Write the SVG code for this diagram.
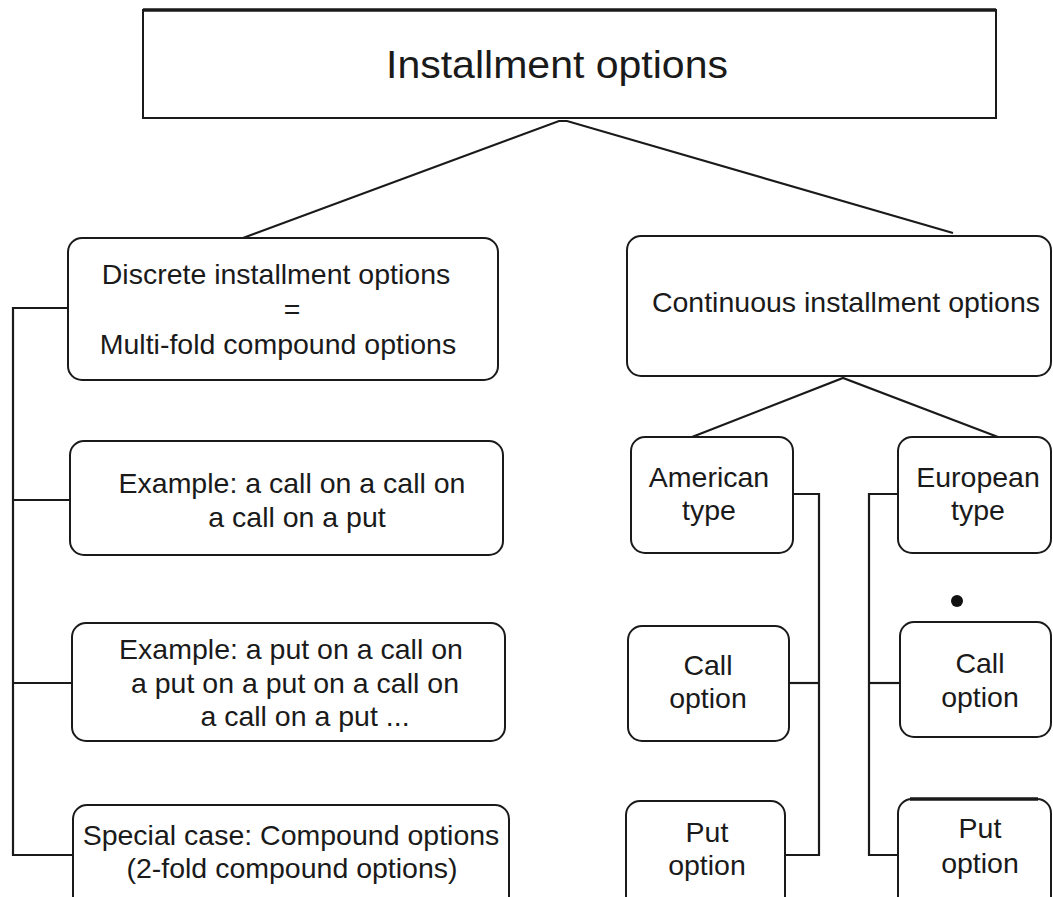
<svg xmlns="http://www.w3.org/2000/svg" width="1053" height="897" viewBox="0 0 1053 897">
<style>
.box{fill:#fff;stroke:#1a1a1a;stroke-width:2}
.t{font-family:"Liberation Sans",Arial,sans-serif;font-size:28.5px;fill:#1a1a1a;text-anchor:middle}
.big{font-size:39px}
.c{fill:none;stroke:#1a1a1a;stroke-width:2.2}
</style>
<rect width="1053" height="897" fill="#fff"/>
<g id="connectors">
<polyline class="c" points="243,238 559,121 567,121 953,233"/>
<polyline class="c" points="692,437 843,378 998,437"/>
<polyline class="c" points="68,308 13,308 13,855 73,855"/>
<line class="c" x1="13" y1="500" x2="70" y2="500"/>
<line class="c" x1="13" y1="683" x2="72" y2="683"/>
<polyline class="c" points="793,494 819,494 819,855 785,855"/>
<line class="c" x1="789" y1="683" x2="819" y2="683"/>
<polyline class="c" points="898,494 869,494 869,855 898,855"/>
<line class="c" x1="869" y1="683" x2="900" y2="683"/>
</g>
<g id="n-top">
<rect class="box" x="143" y="10" width="853" height="108"/>
<line x1="143" y1="10" x2="996" y2="10" stroke="#1a1a1a" stroke-width="3.5"/>
<text class="t big" x="557" y="78" textLength="342" lengthAdjust="spacingAndGlyphs">Installment options</text>
</g>
<g id="n-discrete">
<rect class="box" x="68" y="238" width="430" height="142" rx="14"/>
<text class="t" x="276" y="284">Discrete installment options</text>
<text class="t" x="292" y="319">=</text>
<text class="t" x="278" y="354">Multi-fold compound options</text>
</g>
<g id="n-ex1">
<rect class="box" x="70" y="441" width="433" height="114" rx="14"/>
<text class="t" x="292" y="493">Example: a call on a call on</text>
<text class="t" x="297" y="527">a call on a put</text>
</g>
<g id="n-ex2">
<rect class="box" x="72" y="623" width="433" height="118" rx="14"/>
<text class="t" x="291" y="659">Example: a put on a call on</text>
<text class="t" x="295" y="693">a put on a put on a call on</text>
<text class="t" x="305" y="726">a call on a put ...</text>
</g>
<g id="n-special">
<rect class="box" x="73" y="805" width="436" height="110" rx="14"/>
<text class="t" x="291" y="845">Special case: Compound options</text>
<text class="t" x="292" y="878">(2-fold compound options)</text>
</g>
<g id="n-continuous">
<rect class="box" x="627" y="236" width="424" height="140" rx="14"/>
<text class="t" x="846" y="312">Continuous installment options</text>
</g>
<g id="n-american">
<rect class="box" x="631" y="437" width="162" height="116" rx="14"/>
<text class="t" x="709" y="487">American</text>
<text class="t" x="709" y="520">type</text>
</g>
<g id="n-european">
<rect class="box" x="898" y="437" width="153" height="116" rx="14"/>
<text class="t" x="978" y="487">European</text>
<text class="t" x="978" y="520">type</text>
</g>
<g id="n-call-am">
<rect class="box" x="628" y="626" width="161" height="115" rx="14"/>
<text class="t" x="708" y="675">Call</text>
<text class="t" x="708" y="708">option</text>
</g>
<g id="n-put-am">
<rect class="box" x="626" y="801" width="159" height="110" rx="14"/>
<text class="t" x="707" y="842">Put</text>
<text class="t" x="707" y="875">option</text>
</g>
<g id="n-call-eu">
<rect class="box" x="900" y="622" width="151" height="115" rx="14"/>
<text class="t" x="980" y="673">Call</text>
<text class="t" x="980" y="707">option</text>
</g>
<g id="n-put-eu">
<rect class="box" x="898" y="799" width="153" height="112" rx="14"/>
<line x1="910" y1="799" x2="1038" y2="799" stroke="#1a1a1a" stroke-width="3.5"/>
<text class="t" x="980" y="838">Put</text>
<text class="t" x="980" y="873">option</text>
</g>
<circle cx="957" cy="601" r="6" fill="#111"/>
</svg>
